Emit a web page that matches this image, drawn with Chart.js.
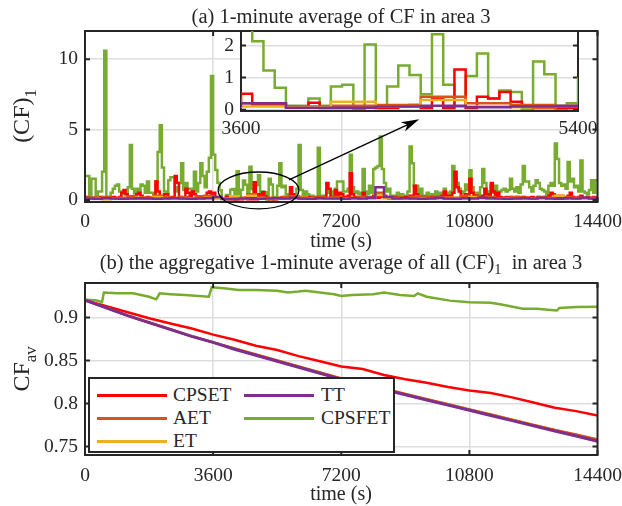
<!DOCTYPE html>
<html>
<head>
<meta charset="utf-8">
<script src="https://cdn.jsdelivr.net/npm/chart.js@4.4.0/dist/chart.umd.min.js"></script>
<style>
  body { margin: 0; background: #fff; }
  #wrap { position: relative; width: 622px; height: 506px; overflow: hidden;
          font-family: "Liberation Serif", "Times New Roman", serif; color: #262626; }
  canvas { position: absolute; }
  .txt { position: absolute; white-space: nowrap; line-height: 1; transform: translate(-50%, -50%); }
  .rot { transform: translate(-50%, -50%) rotate(-90deg); }
  sub { font-size: 70%; vertical-align: -0.4em; line-height: 0; }
  #legend { position: absolute; left: 88px; top: 377px; width: 303px; height: 72px;
            border: 2px solid #262626; background: #fff; z-index: 5; }
  .sw { position: absolute; height: 3px; width: 70px; }
  .lt { position: absolute; font-size: 19.5px; line-height: 1; transform: translateY(-50%); }
</style>
</head>
<body>
<div id="wrap">
  <canvas id="chartA" width="622" height="245" style="left:0;top:0"></canvas>
  <canvas id="chartI" width="410" height="115" style="left:200px;top:25px"></canvas>
  <canvas id="chartB" width="622" height="261" style="left:0;top:245px"></canvas>

  <div class="txt" style="left:341px;top:16px;font-size:20.5px">(a) 1-minute average of CF in area 3</div>
  <div class="txt rot" style="left:21px;top:116px;font-size:24px">(CF)<sub>1</sub></div>
  <div class="txt" style="left:341px;top:240px;font-size:20px">time (s)</div>
  <div class="txt" style="left:341px;top:262px;font-size:20.5px">(b) the aggregative 1-minute average of all (CF)<sub>1</sub>&nbsp; in area 3</div>
  <div class="txt rot" style="left:21px;top:369px;font-size:24px">CF<sub>av</sub></div>
  <div class="txt" style="left:341px;top:493px;font-size:20px">time (s)</div>

  <div id="legend"></div>
</div>
<script>
// series names and colours (MATLAB default order)
const names = ["CPSET", "AET", "ET", "TT", "CPSFET"];
const colors = ["#ff0000", "#d95319", "#edb120", "#7e2f8e", "#77ac30"];

// (a) 1-minute averages, one value per minute (240 minutes)
const cpsfetMin = [
  1.7, 1.7, 0.2, 1.5, 1.5, 0.3, 0.6, 0.6, 2.0, 10.6,
  0.2, 0.2, 0.5, 0.8, 1.0, 1.1, 0.6, 0.4, 0.4, 0.4,
  0.9, 3.9, 0.8, 0.5, 0.8, 0.6, 1.1, 1.0, 0.5, 1.3,
  0.5, 0.5, 0.4, 1.3, 3.4, 5.3, 2.3, 0.6, 0.5, 1.4,
  1.6, 1.6, 0.6, 0.9, 1.2, 2.6, 0.7, 1.2, 0.8, 0.8,
  0.5, 2.0, 0.6, 1.2, 2.6, 1.7, 0.9, 2.0, 3.0, 8.8,
  3.2, 2.13, 1.22, 0.68, 0.12, 0.12, 0.35, 0.12, 0.72, 0.78,
  0.03, 2.03, 0.13, 0.72, 1.38, 1.08, 0.48, 2.35, 0.78, 0.1,
  1.05, 1.75, 0.35, 0.6, 0.55, 0.03, 1.5, 1.1, 0.03, 0.2,
  1.0, 2.6, 0.9, 1.0, 0.4, 0.3, 0.6, 0.4, 0.3, 0.8,
  3.9, 0.7, 0.2, 0.6, 0.4, 0.2, 0.3, 0.1, 0.2, 3.7,
  0.3, 0.3, 0.2, 0.5, 0.7, 0.3, 0.6, 0.8, 1.3, 1.3,
  1.3, 0.6, 0.6, 0.8, 3.2, 0.9, 0.5, 0.6, 0.4, 0.5,
  2.2, 0.6, 0.4, 1.0, 0.5, 2.2, 2.3, 2.4, 4.5, 2.2,
  1.2, 0.6, 0.8, 0.3, 0.2, 0.3, 0.5, 0.3, 0.4, 0.2,
  0.3, 0.6, 3.8, 2.6, 1.0, 1.0, 0.4, 0.8, 0.3, 0.3,
  0.5, 0.2, 0.4, 0.2, 0.6, 0.3, 0.5, 0.3, 0.8, 0.5,
  0.4, 0.6, 2.4, 1.5, 1.2, 0.8, 0.5, 0.6, 1.1, 0.7,
  2.1, 0.9, 0.4, 0.5, 0.3, 0.9, 2.2, 1.2, 0.4, 0.6,
  1.0, 0.5, 1.0, 0.5, 0.6, 0.7, 0.8, 0.6, 0.7, 1.5,
  0.8, 0.6, 0.9, 0.5, 1.1, 2.4, 1.3, 1.3, 0.9, 0.6,
  1.0, 1.4, 1.2, 0.8, 0.7, 0.6, 0.4, 1.0, 1.2, 1.0,
  4.0, 2.9, 1.2, 1.0, 1.1, 0.8, 2.7, 1.3, 1.5, 0.9,
  1.0, 0.6, 2.8, 0.6, 0.5, 0.4, 0.7, 1.4, 0.5, 1.4
];
const cpsetMin = [
  0.2, 0.15, 0.1, 0.1, 0.15, 0.1, 0.1, 0.2, 0.1, 0.15,
  0.1, 0.1, 0.15, 0.2, 0.1, 0.15, 0.2, 0.5, 0.7, 0.4,
  0.2, 0.15, 0.1, 0.3, 0.4, 0.5, 0.3, 0.15, 0.1, 0.2,
  0.1, 0.15, 0.2, 1.3, 0.6, 0.2, 0.15, 0.4, 0.4, 0.1,
  0.15, 0.2, 1.7, 1.2, 0.2, 0.15, 0.1, 0.8, 0.5, 0.15,
  0.6, 0.4, 0.1, 0.15, 0.2, 0.1, 0.15, 0.5, 0.6, 0.2,
  0.5, 0.15, 0.15, 0.15, 0.1, 0.08, 0.22, 0.05, 0.05, 0.05,
  0.05, 0.1, 0.05, 0.05, 0.1, 0.15, 0.05, 0.35, 0.05, 1.25,
  0.05, 0.4, 0.35, 0.55, 0.25, 0.1, 0.05, 0.05, 0.05, 0.05,
  0.1, 0.15, 0.1, 0.2, 0.15, 0.2, 0.9, 0.4, 0.1, 0.15,
  0.2, 0.1, 0.15, 0.1, 0.2, 0.1, 0.15, 0.1, 0.1, 0.2,
  0.1, 0.15, 0.2, 1.2, 0.8, 0.2, 0.15, 0.7, 0.2, 0.5,
  0.4, 0.15, 0.2, 0.3, 1.9, 0.4, 0.2, 0.15, 0.1, 0.2,
  0.5, 0.2, 0.1, 0.15, 0.2, 0.3, 0.2, 0.15, 0.2, 0.4,
  0.3, 0.15, 0.1, 0.15, 0.1, 0.2, 0.15, 0.1, 0.15, 0.1,
  0.2, 0.15, 0.3, 0.2, 1.0, 0.4, 0.15, 0.1, 0.2, 0.1,
  0.15, 0.1, 0.2, 0.15, 0.1, 0.2, 0.15, 0.3, 0.6, 0.3,
  0.2, 0.3, 0.5, 2.0, 0.9, 0.6, 0.3, 0.2, 0.4, 0.3,
  1.5, 0.5, 0.2, 0.3, 0.2, 0.15, 0.3, 0.8, 0.4, 0.2,
  1.2, 0.6, 0.3, 0.5, 0.2, 0.15, 0.1, 0.2, 0.15, 0.2,
  0.1, 0.15, 0.2, 0.1, 0.15, 0.2, 0.1, 0.15, 0.1, 0.2,
  0.15, 0.1, 0.2, 0.15, 0.1, 0.2, 0.15, 0.3, 0.5, 0.4,
  0.2, 0.15, 0.1, 0.2, 0.15, 0.1, 0.3, 0.5, 0.2, 0.15,
  0.1, 0.2, 0.3, 0.15, 0.1, 0.2, 0.15, 0.1, 0.2, 0.1
];
// the three low series, read every 4 minutes (60 values)
const aet4 = [
  0.15, 0.1, 0.2, 0.1, 0.15, 0.25, 0.1, 0.15, 0.3, 0.2,
  0.15, 0.2, 0.1, 0.25, 0.3, 0.2, 0.1, 0.12, 0.15, 0.4,
  0.2, 0.15, 0.1, 0.2, 0.25, 0.15, 0.1, 0.2, 0.15, 0.2,
  0.1, 0.15, 0.2, 0.15, 0.5, 0.2, 0.15, 0.1, 0.2, 0.25,
  0.15, 0.2, 0.1, 0.15, 0.3, 0.2, 0.15, 0.2, 0.1, 0.15,
  0.2, 0.15, 0.1, 0.2, 0.15, 0.3, 0.2, 0.15, 0.1, 0.15
];
const et4 = [
  0.08, 0.1, 0.05, 0.12, 0.08, 0.1, 0.15, 0.08, 0.2, 0.1,
  0.08, 0.12, 0.1, 0.08, 0.15, 0.1, 0.08, 0.25, 0.1, 0.3,
  0.1, 0.08, 0.12, 0.1, 0.08, 0.15, 0.1, 0.08, 0.12, 0.1,
  0.08, 0.1, 0.12, 0.08, 0.35, 0.12, 0.1, 0.08, 0.1, 0.12,
  0.08, 0.1, 0.15, 0.08, 0.1, 0.2, 0.1, 0.08, 0.12, 0.1,
  0.08, 0.1, 0.12, 0.08, 0.1, 0.3, 0.12, 0.1, 0.08, 0.1
];
const tt4 = [
  0.1, 0.08, 0.12, 0.1, 0.08, 0.1, 0.12, 0.1, 0.08, 0.1,
  0.12, 0.1, 0.08, 0.1, 0.12, 0.2, 0.06, 0.06, 0.1, 0.12,
  0.08, 0.1, 0.12, 0.1, 0.15, 0.1, 0.08, 0.12, 0.1, 0.1,
  0.08, 0.12, 0.1, 0.15, 0.9, 0.2, 0.1, 0.12, 0.1, 0.08,
  0.1, 0.15, 0.1, 0.08, 0.12, 0.1, 0.15, 0.12, 0.1, 0.08,
  0.1, 0.12, 0.1, 0.15, 0.1, 0.08, 0.12, 0.1, 0.15, 0.1
];

// (b) aggregate average, read every 600 s
const timeB = [0, 600, 1200, 1800, 2400, 3000, 3600, 4200, 4800, 5400, 6000, 6600, 7200,
  7800, 8400, 9000, 9600, 10200, 10800, 11400, 12000, 12600, 13200, 13800, 14400];
const cpsetAv = [0.920, 0.913, 0.906, 0.899, 0.893, 0.887, 0.880, 0.874, 0.867, 0.862, 0.855, 0.849, 0.843,
  0.840, 0.833, 0.828, 0.824, 0.819, 0.815, 0.812, 0.807, 0.801, 0.795, 0.791, 0.786];
const aetAv = [0.920, 0.911, 0.902, 0.894, 0.886, 0.878, 0.871, 0.864, 0.857, 0.850, 0.843, 0.836, 0.829,
  0.823, 0.817, 0.811, 0.805, 0.799, 0.793, 0.787, 0.781, 0.775, 0.769, 0.764, 0.758];
const etAv = [0.920, 0.911, 0.902, 0.894, 0.886, 0.878, 0.871, 0.864, 0.857, 0.850, 0.843, 0.836, 0.829,
  0.823, 0.817, 0.811, 0.805, 0.799, 0.793, 0.787, 0.781, 0.775, 0.769, 0.763, 0.758];
const ttAv = [0.920, 0.911, 0.902, 0.894, 0.886, 0.878, 0.871, 0.863, 0.856, 0.849, 0.842, 0.835, 0.828,
  0.822, 0.816, 0.810, 0.804, 0.798, 0.792, 0.786, 0.780, 0.774, 0.768, 0.762, 0.756];
// CPSFET has jumps, so it keeps its own time points
const timeG = [0, 300, 480, 530, 900, 1350, 1800, 2000, 2100, 2400, 2800, 3200, 3480, 3560,
  3900, 4320, 4800, 5400, 5700, 6000, 6200, 6600, 7000, 7200, 7500, 8100, 8400, 8850,
  9250, 9350, 9600, 10250, 10800, 11400, 11700, 12300, 12700, 13000, 13260, 13330, 13800, 14400];
const cpsfetAv = [0.9205, 0.920, 0.918, 0.929, 0.928, 0.928, 0.924, 0.921, 0.928, 0.927, 0.926, 0.925, 0.924, 0.935,
  0.934, 0.932, 0.932, 0.931, 0.929, 0.930, 0.931, 0.929, 0.927, 0.925, 0.926, 0.927, 0.929, 0.926,
  0.925, 0.928, 0.924, 0.9195, 0.9175, 0.917, 0.915, 0.910, 0.910, 0.909, 0.908, 0.911, 0.912, 0.9125];

// axis ticks
const xTicks = [0, 3600, 7200, 10800, 14400];
const yTicksA = [0, 5, 10];
const yTicksInset = [0, 1, 2];
const xTicksInset = [3600, 5400];
const yTicksB = [0.75, 0.8, 0.85, 0.9];

const font = { family: "'Liberation Serif', 'Times New Roman', serif", size: 19.5 };
const ink = "#262626";
const gridColor = "#dedede";

// step data: value i holds from i*step to (i+1)*step
function stairs(vals, step) {
  const pts = vals.map((v, i) => ({ x: i * step, y: v }));
  pts.push({ x: vals.length * step, y: vals[vals.length - 1] });
  return pts;
}
function pairs(xs, ys) {
  return ys.map((v, i) => ({ x: xs[i], y: v }));
}

function frame(chart, len) {
  const { ctx, chartArea: a, scales } = chart;
  ctx.save();
  ctx.strokeStyle = ink;
  ctx.lineWidth = 2;
  ctx.beginPath();
  scales.x.ticks.forEach(t => {
    const p = scales.x.getPixelForValue(t.value);
    ctx.moveTo(p, a.bottom); ctx.lineTo(p, a.bottom - len);
    ctx.moveTo(p, a.top); ctx.lineTo(p, a.top + len);
  });
  scales.y.ticks.forEach(t => {
    const p = scales.y.getPixelForValue(t.value);
    ctx.moveTo(a.left, p); ctx.lineTo(a.left + len, p);
    ctx.moveTo(a.right, p); ctx.lineTo(a.right - len, p);
  });
  ctx.stroke();
  ctx.strokeRect(a.left, a.top, a.right - a.left, a.bottom - a.top);
  ctx.restore();
}

function axes(xmin, xmax, xt, ymin, ymax, yt, yw, xh, xpad, yfmt, xgrid) {
  return {
    x: {
      type: "linear", min: xmin, max: xmax,
      afterBuildTicks: s => { s.ticks = xt.map(v => ({ value: v })); },
      afterFit: s => { s.height = xh; s.paddingLeft = 0; s.paddingRight = 0; },
      ticks: { font: font, color: ink, padding: xpad, maxRotation: 0, autoSkip: false,
               callback: v => String(v) },
      grid: { display: xgrid, color: gridColor, lineWidth: 1.5, drawTicks: false },
      border: { display: false }
    },
    y: {
      min: ymin, max: ymax,
      afterBuildTicks: s => { s.ticks = yt.map(v => ({ value: v })); },
      afterFit: s => { s.width = yw; s.paddingTop = 0; s.paddingBottom = 0; },
      ticks: { font: font, color: ink, padding: 7, callback: yfmt },
      grid: { color: gridColor, lineWidth: 1.5, drawTicks: false },
      border: { display: false }
    }
  };
}

function stepSet(label, color, data) {
  return { label: label, data: data, borderColor: color, borderWidth: 2.5,
           pointRadius: 0, stepped: true, fill: false };
}

// first dataset is drawn on top: TT over the others, CPSFET at the back
const topSets = () => [
  stepSet(names[3], colors[3], stairs(tt4, 240)),
  stepSet(names[2], colors[2], stairs(et4, 240)),
  stepSet(names[1], colors[1], stairs(aet4, 240)),
  stepSet(names[0], colors[0], stairs(cpsetMin, 60)),
  stepSet(names[4], colors[4], stairs(cpsfetMin, 60))
];

const base = { animation: false, responsive: false, devicePixelRatio: 1,
  plugins: { legend: { display: false }, tooltip: { enabled: false } } };

// (a) main axes
new Chart(document.getElementById("chartA"), {
  type: "line",
  data: { datasets: topSets() },
  options: Object.assign({}, base, {
    layout: { padding: { left: 0, top: 31, right: 24.5, bottom: 0 } },
    scales: axes(0, 14400, xTicks, -0.15, 12, yTicksA, 85, 43, 8, v => String(v), true)
  }),
  plugins: [{
    id: "frameA",
    afterDatasetsDraw(chart) {
      frame(chart, 5);
      // ellipse around the zoomed window and arrow to the inset
      const { ctx, scales: { x, y } } = chart;
      const x0 = x.getPixelForValue(3740), x1 = x.getPixelForValue(6010);
      const y0 = y.getPixelForValue(1.98), y1 = y.getPixelForValue(-0.64);
      ctx.save();
      ctx.strokeStyle = "#000";
      ctx.lineWidth = 1.3;
      ctx.beginPath();
      ctx.ellipse((x0 + x1) / 2, (y0 + y1) / 2, (x1 - x0) / 2, (y1 - y0) / 2, 0, 0, Math.PI * 2);
      ctx.stroke();
      const ax = x.getPixelForValue(5730), ay = y.getPixelForValue(1.42);
      const bx = x.getPixelForValue(9390), by = y.getPixelForValue(5.73);
      const ang = Math.atan2(by - ay, bx - ax);
      ctx.beginPath();
      ctx.moveTo(ax, ay);
      ctx.lineTo(bx - 12 * Math.cos(ang), by - 12 * Math.sin(ang));
      ctx.stroke();
      ctx.fillStyle = "#000";
      ctx.beginPath();
      ctx.moveTo(bx, by);
      ctx.lineTo(bx - 18 * Math.cos(ang) + 5 * Math.sin(ang), by - 18 * Math.sin(ang) - 5 * Math.cos(ang));
      ctx.lineTo(bx - 13 * Math.cos(ang), by - 13 * Math.sin(ang));
      ctx.lineTo(bx - 18 * Math.cos(ang) - 5 * Math.sin(ang), by - 18 * Math.sin(ang) + 5 * Math.cos(ang));
      ctx.closePath();
      ctx.fill();
      ctx.restore();
    }
  }]
});

// (a) inset, 3600 s to 5400 s
new Chart(document.getElementById("chartI"), {
  type: "line",
  data: { datasets: topSets() },
  options: Object.assign({}, base, {
    layout: { padding: { left: 0, top: 6, right: 32, bottom: 0 } },
    scales: axes(3600, 5400, xTicksInset, -0.04, 2.45, yTicksInset, 41, 29, 6, v => String(v), false)
  }),
  plugins: [{
    id: "frameI",
    beforeDraw(chart) {
      const { ctx, chartArea: a } = chart;
      ctx.save();
      ctx.fillStyle = "#fff";
      ctx.fillRect(a.left, a.top, a.right - a.left, a.bottom - a.top);
      ctx.restore();
    },
    beforeDatasetsDraw(chart) { frame(chart, 5); }
  }]
});

// (b) aggregate average
new Chart(document.getElementById("chartB"), {
  type: "line",
  data: {
    datasets: [
      { label: names[3], data: pairs(timeB, ttAv), borderColor: colors[3], borderWidth: 3, pointRadius: 0 },
      { label: names[1], data: pairs(timeB, aetAv), borderColor: colors[1], borderWidth: 2.5, pointRadius: 0 },
      { label: names[2], data: pairs(timeB, etAv), borderColor: colors[2], borderWidth: 2.5, pointRadius: 0 },
      { label: names[0], data: pairs(timeB, cpsetAv), borderColor: colors[0], borderWidth: 2.5, pointRadius: 0 },
      { label: names[4], data: pairs(timeG, cpsfetAv), borderColor: colors[4], borderWidth: 2.5, pointRadius: 0 }
    ]
  },
  options: Object.assign({}, base, {
    layout: { padding: { left: 0, top: 38, right: 24.5, bottom: 0 } },
    scales: axes(0, 14400, xTicks, 0.74, 0.94, yTicksB, 85, 51, 9, v => String(+v.toFixed(2)), true)
  }),
  plugins: [{ id: "frameB", afterDatasetsDraw(chart) { frame(chart, 5); } }]
});

// legend in two columns, like the reference
const legendPos = [[0, 0], [0, 1], [0, 2], [1, 0], [1, 1]];
const legend = document.getElementById("legend");
names.forEach((n, i) => {
  const [col, row] = legendPos[i];
  const top = 16 + row * 23;
  const sw = document.createElement("div");
  sw.className = "sw";
  sw.style.left = (col ? 154 : 7) + "px";
  sw.style.top = (top - 1.5) + "px";
  sw.style.background = colors[i];
  legend.appendChild(sw);
  const t = document.createElement("div");
  t.className = "lt";
  t.style.left = (col ? 231 : 83) + "px";
  t.style.top = top + "px";
  t.textContent = n;
  legend.appendChild(t);
});
</script>
</body>
</html>
